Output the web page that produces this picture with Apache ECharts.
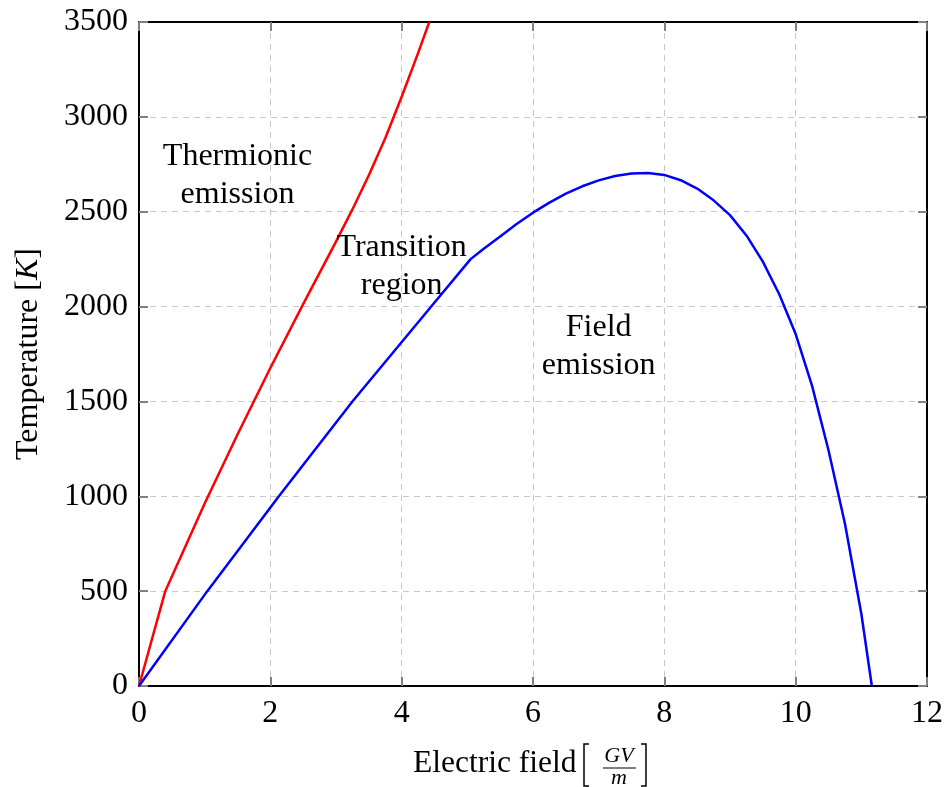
<!DOCTYPE html>
<html>
<head>
<meta charset="utf-8">
<title>Emission regimes</title>
<script src="https://cdn.jsdelivr.net/npm/echarts@6/dist/echarts.min.js"></script>
<style>
  html, body { margin: 0; padding: 0; background: #fff; }
  #chart { width: 944px; height: 787px; }
</style>
</head>
<body>
<div id="chart"></div>
<script>
// thermionic / transition boundary (red)
const redX = [0, 0.4, 1.0, 1.5, 2.0, 2.5, 3.0, 3.25, 3.5, 3.75, 4.0, 4.25, 4.42]
const redT = [0, 500, 962, 1326, 1676, 2013, 2342, 2512, 2692, 2887, 3106, 3336, 3500]

// field emission boundary (blue): near-straight rise up to the kink, then the dome
const blueX = [0, 1.04, 2.13, 3.25, 4.45, 5.05, 5.25, 5.5, 5.75, 6.0, 6.25, 6.5, 6.75, 7.0, 7.25, 7.5, 7.75,
  8.0, 8.25, 8.5, 8.75, 9.0, 9.25, 9.5, 9.75, 10.0, 10.25, 10.5, 10.75, 11.0, 11.16]
const blueT = [0, 500, 1000, 1500, 2000, 2250, 2305, 2370, 2435, 2495, 2548, 2595, 2634, 2665, 2688, 2702, 2704,
  2694, 2666, 2622, 2560, 2482, 2375, 2237, 2065, 1855, 1582, 1243, 857, 381, 0]

// region labels [x, T, text]
const regionLabels = [
  [1.5, 2690, 'Thermionic\nemission'],
  [4.0, 2210, 'Transition\nregion'],
  [7.0, 1790, 'Field\nemission']
]

const xTicks = [0, 2, 4, 6, 8, 10, 12]
const yTicks = [0, 500, 1000, 1500, 2000, 2500, 3000, 3500]

const serif = '"Liberation Serif", "DejaVu Serif", serif'
const toPairs = (xs, ys) => xs.map((x, i) => [x, ys[i]])

const chart = echarts.init(document.getElementById('chart'))

const gridLine = { show: true, lineStyle: { color: '#c8c8c8', width: 1, type: [6, 5] } }
const frameLine = { show: true, onZero: false, lineStyle: { color: '#000', width: 2 } }
const innerTick = { show: true, inside: true, length: 9, lineStyle: { color: '#808080', width: 2 } }

function curve (data, color) {
  return {
    type: 'line',
    data: data,
    showSymbol: false,
    smooth: false,
    lineStyle: { color: color, width: 2.5, join: 'round' },
    z: 5
  }
}

const option = {
  animation: false,
  backgroundColor: '#fff',
  grid: { left: 139, top: 22, right: 17, bottom: 101, outerBoundsMode: 'none', containLabel: false },
  xAxis: [
    {
      type: 'value',
      min: xTicks[0],
      max: xTicks[xTicks.length - 1],
      interval: 2,
      axisLine: frameLine,
      axisTick: innerTick,
      splitLine: gridLine,
      axisLabel: { color: '#000', fontFamily: serif, fontSize: 32, margin: 12, formatter: v => String(v) }
    },
    {
      type: 'value',
      position: 'top',
      min: xTicks[0],
      max: xTicks[xTicks.length - 1],
      interval: 2,
      axisLine: frameLine,
      axisTick: innerTick,
      splitLine: { show: false },
      axisLabel: { show: false }
    }
  ],
  yAxis: [
    {
      type: 'value',
      min: yTicks[0],
      max: yTicks[yTicks.length - 1],
      interval: 500,
      axisLine: frameLine,
      axisTick: innerTick,
      splitLine: gridLine,
      axisLabel: { color: '#000', fontFamily: serif, fontSize: 32, margin: 11, formatter: v => String(v) },
      name: '{n|Temperature [}{k|K}{n|]}',
      nameLocation: 'middle',
      nameGap: 94,
      nameRotate: 90,
      nameTextStyle: {
        rich: {
          n: { fontFamily: serif, fontSize: 32, color: '#000' },
          k: { fontFamily: serif, fontSize: 32, color: '#000', fontStyle: 'italic' }
        }
      }
    },
    {
      type: 'value',
      position: 'right',
      min: yTicks[0],
      max: yTicks[yTicks.length - 1],
      interval: 500,
      axisLine: frameLine,
      axisTick: innerTick,
      splitLine: { show: false },
      axisLabel: { show: false }
    }
  ],
  series: [
    curve(toPairs(redX, redT), '#ff0000'),
    curve(toPairs(blueX, blueT), '#0000ff'),
    {
      type: 'scatter',
      symbolSize: 0,
      itemStyle: { opacity: 1 },
      data: regionLabels.map(d => [d[0], d[1]]),
      label: {
        show: true,
        position: 'inside',
        formatter: p => regionLabels[p.dataIndex][2],
        fontFamily: serif,
        fontSize: 32,
        lineHeight: 38,
        align: 'center',
        color: '#000',
        textBorderWidth: 0
      },
      silent: true,
      z: 6
    }
  ],
  graphic: [
    {
      type: 'text',
      x: 413,
      y: 764,
      style: { text: 'Electric field', font: '31.5px ' + serif, fill: '#000', textVerticalAlign: 'middle' }
    },
    {
      type: 'polyline',
      shape: { points: [[589, 744], [584, 744], [584, 786], [589, 786]] },
      style: { stroke: '#000', lineWidth: 1.5, fill: null }
    },
    {
      type: 'text',
      x: 619,
      y: 756,
      style: { text: 'GV', font: 'italic 22px ' + serif, fill: '#000', textAlign: 'center', textVerticalAlign: 'middle' }
    },
    {
      type: 'line',
      shape: { x1: 603, y1: 768, x2: 636, y2: 768 },
      style: { stroke: '#000', lineWidth: 1.2 }
    },
    {
      type: 'text',
      x: 619,
      y: 778,
      style: { text: 'm', font: 'italic 22px ' + serif, fill: '#000', textAlign: 'center', textVerticalAlign: 'middle' }
    },
    {
      type: 'polyline',
      shape: { points: [[641, 744], [646, 744], [646, 786], [641, 786]] },
      style: { stroke: '#000', lineWidth: 1.5, fill: null }
    }
  ]
}

chart.setOption(option)
</script>
</body>
</html>
